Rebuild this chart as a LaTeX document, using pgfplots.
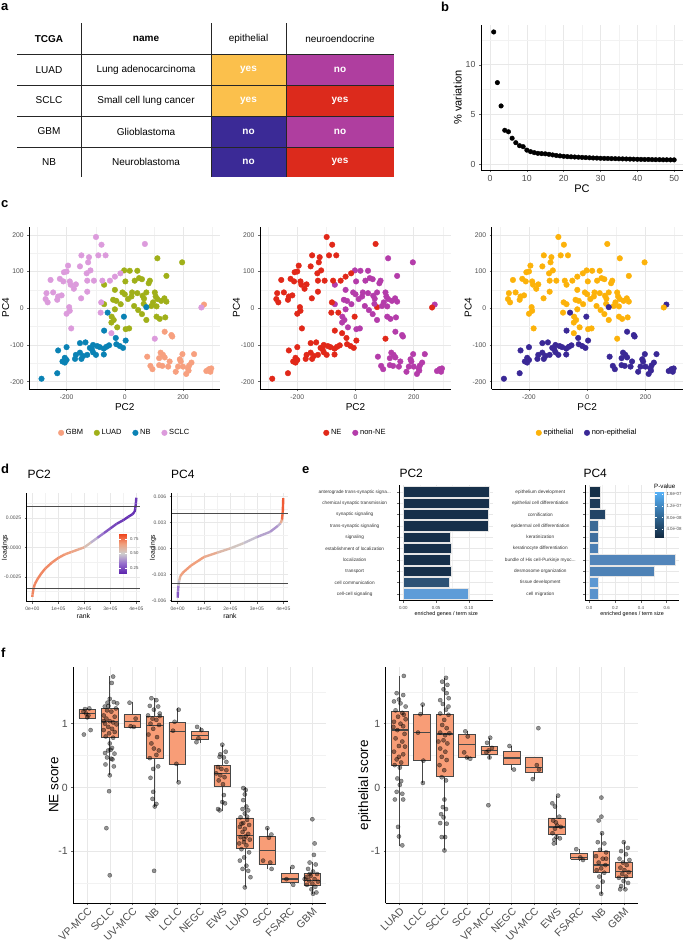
\documentclass[border=0pt]{standalone}
\usepackage{fontspec}
\setmainfont{Liberation Sans}
\usepackage{pgfplots}
\usepackage{pgfplotstable}
\pgfplotsset{compat=1.18}
\pgfplotsset{/pgf/number format/assume math mode=true}
\newcommand{\fs}[1]{\fontsize{#1}{#1}\selectfont}
\newcommand{\dd}{.\kern0pt.\kern0pt.}
\definecolor{tyel}{HTML}{FBC04C}
\definecolor{tmag}{HTML}{AF3E9F}
\definecolor{tred}{HTML}{DC2A1C}
\definecolor{tnav}{HTML}{3B2A96}
\definecolor{cGBM}{HTML}{F7A07F}
\definecolor{cLUAD}{HTML}{A0B019}
\definecolor{cNB}{HTML}{0A82B4}
\definecolor{cSCLC}{HTML}{DC9BDC}
\definecolor{cNE}{HTML}{E12819}
\definecolor{cnNE}{HTML}{B43CAA}
\definecolor{cEp}{HTML}{FCB20A}
\definecolor{cnEp}{HTML}{3A2896}
\definecolor{boxf}{HTML}{F89D77}
\definecolor{ax}{HTML}{4D4D4D}
\definecolor{b0}{HTML}{17304A}
\definecolor{b1}{HTML}{2D5275}
\definecolor{b2}{HTML}{5E9CD8}
\definecolor{e1}{HTML}{163048}
\definecolor{e2}{HTML}{1C3A58}
\definecolor{e3}{HTML}{234466}
\definecolor{e4}{HTML}{3C6A96}
\definecolor{e5}{HTML}{3E6E9E}
\definecolor{e6}{HTML}{4B7FB4}
\definecolor{e7}{HTML}{5285BA}
\definecolor{e8}{HTML}{4E82B6}
\definecolor{e9}{HTML}{5D98D2}
\definecolor{e10}{HTML}{5992CC}

\pgfplotsset{
  gg/.style={scale only axis, axis lines*=left, axis line style={black, line width=0.55pt, -},
    tick align=outside, major tick length=2pt, minor tick length=0pt,
    tick style={black!60, line width=0.45pt}, grid=both,
    major grid style={black!9, line width=0.5pt}, minor grid style={black!5, line width=0.35pt},
    tick label style={text=ax}, scaled ticks=false},
  pca/.style={gg, width=191pt, height=162.3pt, xmin=-328, xmax=328, ymin=-220, ymax=222,
    xtick={-200,0,200}, minor xtick={-300,-100,100,300}, ytick={-200,-100,0,100,200},
    minor ytick={-150,-50,50,150}, tick label style={font=\fs{6.8}},
    label style={font=\fs{10}}, xlabel={PC2}, ylabel={PC4},
    xlabel style={yshift=3pt}, ylabel style={yshift=-6pt},
    legend columns=-1, legend cell align=left,
    legend style={draw=none, fill=none, at={(0.5,-0.27)}, anchor=center, font=\fs{7.5},
      /tikz/every even column/.append style={column sep=9pt}},
    legend image code/.code={\draw[mark repeat=2,mark phase=2,#1] plot coordinates {(0pt,0pt) (4pt,0pt) (8pt,0pt)};}},
  pt/.style={only marks, mark=*, mark size=2.8pt, mark options={draw=none}},
  ldg/.style={gg, width=113.3pt, height=108.7pt, tick label style={font=\fs{5}},
    label style={font=\fs{6.8}}, xlabel={rank}, ylabel={loadings},
    xtick={0,100000,200000,300000,400000}, xticklabels={0e+00,1e+05,2e+05,3e+05,4e+05},
    minor xtick={50000,150000,250000,350000}, xlabel style={yshift=4pt},
    colormap={ld}{rgb255(0cm)=(95,40,175); rgb255(1cm)=(150,110,205); rgb255(2cm)=(205,205,205); rgb255(3cm)=(240,160,125); rgb255(4cm)=(240,70,30)},
    point meta min=0.16, point meta max=0.84},
  cbar/.style={scale only axis, view={0}{90}, xmin=0, xmax=1, axis line style={draw=none},
    xtick=\empty, yticklabel pos=right, tick style={white, line width=0.4pt}, major tick length=1.5pt,
    tick align=inside, tick label style={text=ax}, clip=false},
  enr/.style={gg, width=94pt, height=115.6pt, ymin=0.4, ymax=10.6, y dir=reverse,
    ytick={1,2,3,4,5,6,7,8,9,10}, minor ytick={}, tick label style={font=\fs{4.4}},
    yticklabel style={anchor=center, font=\fs{4.7}, text=black!80},
    xlabel={enriched genes / term size}, xlabel style={font=\fs{5.4}, yshift=5pt}},
  bx/.style={xbar, bar shift=0pt, bar width=10.2pt, draw=white!80!gray, line width=0.5pt},
  fbox/.style={gg, width=253pt, height=236.6pt, xmin=0.38, xmax=11.62, ymin=-1.82, ymax=1.895,
    xtick={1,2,3,4,5,6,7,8,9,10,11}, minor xtick={}, ytick={-1,0,1}, minor ytick={-1.5,-0.5,0.5,1.5},
    yticklabel style={font=\fs{10.5}}, xticklabel style={font=\fs{10.5}, rotate=45, anchor=north east, inner sep=1pt},
    ylabel style={font=\fs{13.5}, yshift=-7pt}},
  bxl/.style={black!72, line width=0.6pt},
  jit/.style={only marks, mark=*, mark size=2.1pt, mark options={fill=black, draw=black, fill opacity=0.42, draw opacity=0.55, line width=0.3pt}},
}
% pos, left, right, median, q1, q3, lower whisker, upper whisker
\newcommand{\bxp}[8]{%
\addplot[bxl] coordinates {(#1,#7) (#1,#5)};
\addplot[bxl] coordinates {(#1,#6) (#1,#8)};
\addplot[bxl, fill=boxf] coordinates {(#2,#5) (#3,#5) (#3,#6) (#2,#6) (#2,#5)};
\addplot[bxl, line width=1.3pt] coordinates {(#2,#4) (#3,#4)};
}

\pgfplotstableread{
x y
-99 194
-80 173
69 175
-149 144
-123 139
-91 144
-66 144
-126 125
-154 114
-118 103
-195 116
-200 100
-131 95
-209 98
-255 77
-223 80
-211 73
-189 73
-168 65
-175 53
-129 75
-106 75
-129 45
-77 75
-269 41
-246 43
-272 25
-265 16
-229 32
-217 35
-232 23
-150 27
-81 16
-191 3
-189 -7
-200 -15
-184 -55
-15 95
-34 86
-51 75
-83 -12
-46 -68
103 -83
263 2
-186 64
}\tSCLC
\pgfplotstableread{
x y
197 125
112 136
143 88
-2 103
17 102
43 102
2 73
34 75
49 82
59 79
86 75
82 68
-71 64
-34 50
-8 43
0 38
25 43
43 41
74 43
103 43
106 32
61 34
66 26
11 25
-29 20
-40 23
-71 11
-14 11
32 6
65 12
97 16
109 5
125 20
136 27
143 18
112 25
91 6
59 -16
74 -32
109 -23
120 -29
139 -25
-45 -23
-38 -32
-46 -39
-26 -52
3 -57
15 -55
23 32
46 -5
-34 -3
}\tLUAD
\pgfplotstableread{
x y
74 3
-59 -12
-3 -23
-71 -61
-31 -81
3 -88
-29 -98
-17 -103
-6 -108
-154 -95
-135 -93
-109 -100
-95 -103
-120 -108
-109 -120
-99 -127
-72 -126
-63 -105
-54 -101
-72 -110
-154 -121
-168 -127
-143 -130
-129 -127
-200 -106
-229 -115
-206 -135
-214 -145
-200 -141
-206 -148
-171 -138
-149 -138
-232 -177
-286 -192
-86 -106
-113 -112
}\tNB
\pgfplotstableread{
x y
272 10
137 -64
160 -73
163 -77
77 -132
123 -121
131 -127
118 -136
137 -134
154 -145
118 -155
88 -157
95 -166
198 -125
238 -125
189 -139
192 -145
183 -159
175 -173
200 -159
229 -148
221 -156
217 -164
219 -170
211 -179
149 -159
129 -157
289 -166
297 -164
280 -171
294 -173
}\tGBM

\begin{document}
\begin{tikzpicture}
\useasboundingbox (0pt,0pt) rectangle (685pt,-943pt);

% ---------- panel letters
\begin{scope}[every node/.style={anchor=base west, inner sep=0pt, font=\bfseries\fs{13}}]
\node at (1pt,-10.5pt) {a};
\node at (441pt,-11pt) {b};
\node at (1pt,-207pt) {c};
\node at (1pt,-473pt) {d};
\node at (302pt,-473pt) {e};
\node at (1pt,-657pt) {f};
\end{scope}

% ---------- panel a (table)
\fill[tyel] (211pt,-54pt) rectangle (286pt,-116pt);
\fill[tnav] (211pt,-116pt) rectangle (286pt,-177pt);
\fill[tmag] (286pt,-54pt) rectangle (394pt,-85pt);
\fill[tred] (286pt,-85pt) rectangle (394pt,-116pt);
\fill[tmag] (286pt,-116pt) rectangle (394pt,-147pt);
\fill[tred] (286pt,-147pt) rectangle (394pt,-177pt);
\foreach \yy in {54,85,116,147} {\draw[black!85, line width=0.8pt] (17pt,-\yy pt) -- (394pt,-\yy pt);}
\foreach \xx in {81,211,286} {\draw[black!85, line width=0.8pt] (\xx pt,-23pt) -- (\xx pt,-177pt);}
\begin{scope}[every node/.style={font=\fs{10}, inner sep=0pt}]
\node[font=\fs{10}\bfseries] at (49pt,-39pt) {TCGA};
\node[font=\fs{10}\bfseries] at (146pt,-39pt) {name};
\node at (248.5pt,-39pt) {epithelial};
\node at (340pt,-39pt) {neuroendocrine};
\node at (49pt,-70pt) {LUAD};
\node at (49pt,-100.5pt) {SCLC};
\node at (49pt,-131.5pt) {GBM};
\node at (49pt,-162pt) {NB};
\node at (146pt,-70pt) {Lung adenocarcinoma};
\node at (146pt,-100.5pt) {Small cell lung cancer};
\node at (146pt,-131.5pt) {Glioblastoma};
\node at (146pt,-162pt) {Neuroblastoma};
\node[font=\fs{10}\bfseries, white] at (248.5pt,-70pt) {yes};
\node[font=\fs{10}\bfseries, white] at (248.5pt,-100.5pt) {yes};
\node[font=\fs{10}\bfseries, white] at (248.5pt,-131.5pt) {no};
\node[font=\fs{10}\bfseries, white] at (248.5pt,-162pt) {no};
\node[font=\fs{10}\bfseries, white] at (340pt,-70pt) {no};
\node[font=\fs{10}\bfseries, white] at (340pt,-100.5pt) {yes};
\node[font=\fs{10}\bfseries, white] at (340pt,-131.5pt) {no};
\node[font=\fs{10}\bfseries, white] at (340pt,-162pt) {yes};
\end{scope}

% ---------- panel b
\begin{axis}[gg, at={(481pt,-170pt)}, anchor=south west, width=202pt, height=145pt,
  xmin=-2.45, xmax=52.4, ymin=-0.6, ymax=14.0,
  xtick={0,10,20,30,40,50}, minor xtick={5,15,25,35,45},
  ytick={0,5,10}, minor ytick={2.5,7.5,12.5},
  tick label style={font=\fs{8.8}}, label style={font=\fs{11}},
  xlabel={PC}, ylabel={\% variation}, xlabel style={yshift=4pt}, ylabel style={yshift=-3pt}]
\addplot[only marks, mark=*, mark size=2.3pt, black] coordinates {
(1,13.3) (2,8.2) (3,5.85) (4,3.4) (5,3.25) (6,2.6) (7,2.15) (8,1.85) (9,1.75) (10,1.4)
(11,1.25) (12,1.15) (13,1.08) (14,1.05) (15,1.03) (16,0.98) (17,0.92) (18,0.86) (19,0.82) (20,0.78)
(21,0.75) (22,0.73) (23,0.71) (24,0.69) (25,0.67) (26,0.65) (27,0.63) (28,0.61) (29,0.6) (30,0.58)
(31,0.57) (32,0.56) (33,0.55) (34,0.54) (35,0.53) (36,0.52) (37,0.51) (38,0.5) (39,0.49) (40,0.48)
(41,0.47) (42,0.46) (43,0.46) (44,0.45) (45,0.44) (46,0.44) (47,0.43) (48,0.43) (49,0.42) (50,0.42)};
\end{axis}

% ---------- panel c
\begin{axis}[pca, at={(29.3pt,-389pt)}, anchor=south west]
\addplot[pt, color=cGBM] table {\tGBM}; \addlegendentry{GBM}
\addplot[pt, color=cLUAD] table {\tLUAD}; \addlegendentry{LUAD}
\addplot[pt, color=cNB] table {\tNB}; \addlegendentry{NB}
\addplot[pt, color=cSCLC] table {\tSCLC}; \addlegendentry{SCLC}
\end{axis}
\begin{axis}[pca, at={(260pt,-389pt)}, anchor=south west]
\addplot[pt, color=cNE] table {\tNB}; \addlegendentry{NE}
\addplot[pt, color=cnNE] table {\tGBM}; \addlegendentry{non-NE}
\addplot[pt, color=cnNE, forget plot] table {\tLUAD};
\addplot[pt, color=cNE, forget plot] table {\tSCLC};
\end{axis}
\begin{axis}[pca, at={(491.7pt,-389pt)}, anchor=south west]
\addplot[pt, color=cEp] table {\tLUAD}; \addlegendentry{epithelial}
\addplot[pt, color=cnEp] table {\tGBM}; \addlegendentry{non-epithelial}
\addplot[pt, color=cnEp, forget plot] table {\tNB};
\addplot[pt, color=cEp, forget plot] table {\tSCLC};
\end{axis}

% ---------- panel d
\node[anchor=base west, inner sep=0pt, font=\fs{12}] at (27.3pt,-478pt) {PC2};
\node[anchor=base west, inner sep=0pt, font=\fs{12}] at (171pt,-478pt) {PC4};
\begin{axis}[ldg, at={(26.7pt,-601.7pt)}, anchor=south west,
  xmin=-21500, xmax=414000, ymin=-0.00461, ymax=0.0046,
  ytick={-0.0025,0,0.0025}, yticklabels={-0.0025,0.0000,0.0025},
  minor ytick={-0.00375,-0.00125,0.00125,0.00375},
  ylabel style={at={(axis description cs:-0.19,0.5)}, anchor=center}]
\addplot[mesh, point meta=explicit, line width=2.4pt] table[meta index=2] {
x y m
0 -0.0042 0.72
1000 -0.0040 0.72
3000 -0.0037 0.72
6000 -0.0034 0.72
10000 -0.0031 0.72
20000 -0.0027 0.72
35000 -0.0022 0.72
50000 -0.0018 0.72
75000 -0.0013 0.70
100000 -0.0009 0.70
125000 -0.0006 0.68
150000 -0.0004 0.66
175000 -0.0002 0.64
200000 0.0000 0.60
225000 0.0004 0.50
250000 0.0008 0.40
275000 0.0012 0.30
300000 0.0016 0.25
325000 0.0020 0.22
350000 0.0023 0.20
370000 0.0026 0.18
385000 0.0028 0.18
393000 0.0030 0.18
396000 0.0033 0.18
398000 0.0037 0.20
400000 0.0042 0.20
};
\addplot[black!70, line width=0.5pt] coordinates {(-21500,0.0035) (414000,0.0035)};
\addplot[black!70, line width=0.5pt] coordinates {(-21500,-0.0035) (414000,-0.0035)};
\end{axis}
% colour key of the PC2 loadings
\begin{axis}[cbar, at={(119pt,-573pt)}, anchor=south west, width=7.5pt, height=39pt,
  ymin=0.16, ymax=0.84, ytick={0.25,0.5,0.75}, yticklabels={0.25,0.50,0.75},
  tick label style={font=\fs{4.3}},
  colormap={ld}{rgb255(0cm)=(95,40,175); rgb255(1cm)=(150,110,205); rgb255(2cm)=(205,205,205); rgb255(3cm)=(240,160,125); rgb255(4cm)=(240,70,30)},
  point meta min=0.16, point meta max=0.84]
\addplot3[surf, shader=interp, mesh/rows=2, point meta=y] coordinates {(0,0.16,0) (1,0.16,0) (0,0.84,0) (1,0.84,0)};
\end{axis}
\begin{axis}[ldg, at={(171.7pt,-601.7pt)}, anchor=south west, width=116.6pt,
  xmin=-22700, xmax=419000, ymin=-0.00616, ymax=0.00638,
  ytick={-0.006,-0.003,0,0.003,0.006}, yticklabels={-0.006,-0.003,0.000,0.003,0.006},
  minor ytick={-0.0045,-0.0015,0.0015,0.0045},
  ylabel style={at={(axis description cs:-0.16,0.5)}, anchor=center}]
\addplot[mesh, point meta=explicit, line width=2.4pt] table[meta index=2] {
x y m
0 -0.0057 0.25
1000 -0.0050 0.30
3000 -0.0043 0.40
6000 -0.0037 0.55
10000 -0.0032 0.65
20000 -0.0028 0.68
50000 -0.0020 0.68
100000 -0.0010 0.66
150000 -0.0005 0.60
200000 0.0000 0.55
250000 0.0006 0.50
300000 0.0013 0.45
350000 0.0019 0.40
380000 0.0026 0.40
390000 0.0029 0.50
395000 0.0033 0.75
398000 0.0042 0.80
400000 0.0058 0.80
};
\addplot[black!70, line width=0.5pt] coordinates {(-22700,0.0040) (419000,0.0040)};
\addplot[black!70, line width=0.5pt] coordinates {(-22700,-0.0040) (419000,-0.0040)};
\end{axis}

% ---------- panel e
\node[anchor=base west, inner sep=0pt, font=\fs{12}] at (399.3pt,-477.3pt) {PC2};
\node[anchor=base west, inner sep=0pt, font=\fs{12}] at (583.3pt,-477.3pt) {PC4};
\begin{axis}[enr, at={(399.3pt,-600.6pt)}, anchor=south west,
  xmin=-0.0061, xmax=0.137, xtick={0,0.05,0.1}, xticklabels={0.00,0.05,0.10},
  minor xtick={0.025,0.075,0.125}, yticklabel style={xshift=-42.6pt},
  yticklabels={{anterograde trans-synaptic signa\dd},{chemical synaptic transmission},{synaptic signaling},{trans-synaptic signaling},{signaling},{establishment of localization},{localization},{transport},{cell communication},{cell-cell signaling}}]
\addplot[bx, fill=b0] coordinates {(0.131,1)};
\addplot[bx, fill=b0] coordinates {(0.131,2)};
\addplot[bx, fill=b0] coordinates {(0.130,3)};
\addplot[bx, fill=b0] coordinates {(0.130,4)};
\addplot[bx, fill=b0] coordinates {(0.0712,5)};
\addplot[bx, fill=b0] coordinates {(0.0727,6)};
\addplot[bx, fill=b0] coordinates {(0.0712,7)};
\addplot[bx, fill=b0] coordinates {(0.0727,8)};
\addplot[bx, fill=b1] coordinates {(0.0700,9)};
\addplot[bx, fill=b2] coordinates {(0.0985,10)};
\end{axis}
\begin{axis}[enr, at={(585pt,-600.6pt)}, anchor=south west, width=94.2pt,
  xmin=-0.0335, xmax=0.697, xtick={0,0.2,0.4,0.6}, xticklabels={0.0,0.2,0.4,0.6},
  minor xtick={0.1,0.3,0.5}, yticklabel style={xshift=-42.7pt},
  yticklabels={{epithelium development},{epithelial cell differentiation},{cornification},{epidermal cell differentiation},{keratinization},{keratinocyte differentiation},{bundle of His cell-Purkinje myoc\dd},{desmosome organization},{tissue development},{cell migration}}]
\addplot[bx, fill=e1] coordinates {(0.083,1)};
\addplot[bx, fill=e2] coordinates {(0.083,2)};
\addplot[bx, fill=e3] coordinates {(0.122,3)};
\addplot[bx, fill=e4] coordinates {(0.072,4)};
\addplot[bx, fill=e5] coordinates {(0.067,5)};
\addplot[bx, fill=e6] coordinates {(0.072,6)};
\addplot[bx, fill=e7] coordinates {(0.664,7)};
\addplot[bx, fill=e8] coordinates {(0.500,8)};
\addplot[bx, fill=e9] coordinates {(0.067,9)};
\addplot[bx, fill=e10] coordinates {(0.072,10)};
\end{axis}
% P-value key
\begin{axis}[cbar, at={(655pt,-537pt)}, anchor=south west, width=8pt, height=45pt,
  ymin=1.36, ymax=16.8, ytick={4,8,12,16}, yticklabels={4.0e-08,8.0e-08,1.2e-07,1.6e-07},
  tick label style={font=\fs{4.4}},
  colormap={pv}{rgb255(0cm)=(19,43,67); rgb255(1cm)=(86,177,247)},
  point meta min=1.36, point meta max=16.8]
\addplot3[surf, shader=interp, mesh/rows=2, point meta=y] coordinates {(0,1.36,0) (1,1.36,0) (0,16.8,0) (1,16.8,0)};
\end{axis}
\node[anchor=south west, inner sep=0pt, font=\fs{6.2}] at (654pt,-489pt) {P-value};

% ---------- panel f
\begin{axis}[fbox, at={(73.3pt,-903.3pt)}, anchor=south west,
  xticklabels={VP-MCC,SCLC,UV-MCC,NB,LCLC,NEGC,EWS,LUAD,SCC,FSARC,GBM}, ylabel={NE score}]
\bxp{1}{0.625}{1.375}{1.16}{1.09}{1.22}{1.08}{1.25}
\bxp{2}{1.625}{2.375}{1.03}{0.78}{1.24}{0.19}{1.75}
\bxp{3}{2.625}{3.375}{1.03}{0.95}{1.14}{0.95}{1.34}
\bxp{4}{3.625}{4.375}{0.97}{0.45}{1.12}{-0.30}{1.41}
\bxp{5}{4.625}{5.375}{0.88}{0.36}{1.02}{0.08}{1.24}
\bxp{6}{5.625}{6.375}{0.82}{0.76}{0.88}{0.70}{0.95}
\bxp{7}{6.625}{7.375}{0.22}{0.02}{0.35}{-0.37}{0.67}
\bxp{8}{7.625}{8.375}{-0.75}{-0.95}{-0.48}{-1.57}{0.0}
\bxp{9}{8.625}{9.375}{-0.99}{-1.21}{-0.77}{-1.28}{-0.63}
\bxp{10}{9.625}{10.375}{-1.44}{-1.49}{-1.35}{-1.52}{-1.25}
\bxp{11}{10.625}{11.375}{-1.46}{-1.53}{-1.35}{-1.67}{-1.17}
\addplot[jit] table {
x y
0.85 0.83
1.15 0.90
0.9 1.23
1.09 1.24
0.95 1.16
1.05 1.13
1.0 1.10
0.83 1.19
2.15 1.74
2.09 1.64
2.0 1.39
1.9 1.33
2.18 1.34
1.78 1.27
2.27 1.24
1.88 1.21
2.07 1.19
1.73 1.13
2.22 1.11
1.85 1.08
2.0 1.04
2.15 1.02
1.79 1.0
2.3 0.99
1.93 0.95
2.1 0.92
1.73 0.90
2.22 0.87
1.97 0.85
1.82 0.80
2.15 0.78
2.0 0.69
2.1 0.62
1.93 0.58
1.79 0.54
2.04 0.59
1.88 0.47
2.12 0.44
1.81 0.36
2.18 0.33
2.0 0.19
1.97 -0.06
1.85 -0.64
2.0 -1.38
2.07 0.45
2.21 0.53
1.73 1.04
2.33 1.32
1.94 1.28
2.88 1.33
3.15 1.08
2.93 0.96
3.07 0.95
3.85 1.40
4.07 1.37
3.78 1.28
4.15 1.27
3.96 1.22
3.7 1.13
4.22 1.12
3.9 1.08
4.07 1.06
3.81 1.0
4.19 0.98
3.93 0.92
3.72 0.83
4.1 0.79
3.85 0.69
3.96 0.61
4.18 0.58
4.07 0.51
3.78 0.46
4.15 0.33
3.93 0.29
3.81 0.15
3.93 -0.07
3.9 -0.18
4.07 -0.26
4.0 -0.30
3.97 -1.31
4.22 1.16
5.06 1.22
4.88 1.03
4.81 0.89
4.96 0.37
5.06 0.08
5.88 0.95
6.07 0.90
5.94 0.77
5.85 0.71
7.0 0.67
7.15 0.56
6.88 0.48
7.07 0.47
7.18 0.40
6.81 0.32
6.96 0.29
7.18 0.27
6.73 0.22
6.91 0.19
7.1 0.16
6.84 0.11
7.03 0.05
7.07 -0.12
7.0 -0.23
7.12 -0.25
6.81 -0.34
6.88 -0.36
6.91 0.52
7.93 -0.01
8.04 -0.04
8.0 -0.11
7.93 -0.2
8.07 -0.30
7.9 -0.34
8.15 -0.36
8.0 -0.41
7.81 -0.47
8.1 -0.51
7.93 -0.56
8.19 -0.59
7.78 -0.62
8.0 -0.65
7.9 -0.70
8.15 -0.73
8.04 -0.77
7.81 -0.78
8.22 -0.82
7.96 -0.86
8.07 -0.91
7.85 -0.97
8.19 -1.02
7.97 -1.10
7.78 -1.15
8.07 -1.23
7.9 -1.28
8.15 -1.31
8.25 -1.41
8.0 -1.57
7.85 -0.57
8.1 -0.46
7.97 -0.81
7.75 -0.88
9.0 -0.64
9.18 -0.74
9.07 -0.79
8.81 -1.15
9.13 -1.18
9.19 -1.28
10.12 -1.25
9.85 -1.44
10.15 -1.53
11.0 -0.5
11.1 -0.88
11.07 -1.06
10.88 -1.18
11.15 -1.21
10.81 -1.28
11.03 -1.32
11.21 -1.36
10.93 -1.39
10.73 -1.41
11.1 -1.44
10.85 -1.46
11.25 -1.48
11.0 -1.51
10.76 -1.53
11.13 -1.56
10.96 -1.60
11.18 -1.65
11.03 -1.67
10.88 -1.36
10.66 -1.44
};
\end{axis}

\begin{axis}[fbox, at={(385.7pt,-903.3pt)}, anchor=south west, width=252pt,
  xticklabels={LUAD,LCLC,SCLC,SCC,VP-MCC,NEGC,UV-MCC,EWS,FSARC,NB,GBM}, ylabel={epithelial score}]
\bxp{1}{0.625}{1.375}{0.90}{0.35}{1.19}{-0.92}{1.75}
\bxp{2}{1.625}{2.375}{0.86}{0.42}{1.15}{0.07}{1.30}
\bxp{3}{2.625}{3.375}{0.84}{0.18}{1.14}{-0.99}{1.72}
\bxp{4}{3.625}{4.375}{0.67}{0.48}{0.83}{0.45}{0.88}
\bxp{5}{4.625}{5.375}{0.58}{0.52}{0.65}{0.45}{0.78}
\bxp{6}{5.625}{6.375}{0.46}{0.37}{0.56}{0.28}{0.65}
\bxp{7}{6.625}{7.375}{0.31}{0.23}{0.48}{0.13}{0.48}
\bxp{8}{7.625}{8.375}{-0.62}{-0.74}{-0.48}{-0.90}{-0.13}
\bxp{9}{8.625}{9.375}{-1.10}{-1.13}{-1.04}{-1.15}{-0.97}
\bxp{10}{9.625}{10.375}{-1.22}{-1.33}{-1.01}{-1.67}{-0.72}
\bxp{11}{10.625}{11.375}{-1.32}{-1.41}{-1.17}{-1.60}{-0.86}
\addplot[jit] table {
x y
1.19 1.75
0.87 1.48
1.16 1.45
0.97 1.38
0.75 1.35
1.04 1.32
1.27 1.27
0.82 1.21
1.12 1.17
0.93 1.11
1.27 1.07
0.75 1.03
1.04 1.0
1.16 0.96
0.9 0.90
1.22 0.84
0.82 0.77
1.12 0.72
0.97 0.65
0.75 0.56
1.16 0.52
0.97 0.48
0.87 0.44
1.07 0.39
0.78 0.35
1.01 0.31
0.9 0.14
1.07 0.10
1.01 0.04
0.87 -0.07
1.12 -0.10
0.79 -0.19
1.16 -0.19
0.93 -0.62
0.97 -0.77
1.12 -0.91
1.19 1.14
0.72 0.95
1.24 0.64
2.03 1.30
1.93 1.15
1.82 0.86
2.06 0.42
2.04 0.07
3.07 1.72
2.9 1.66
3.13 1.61
2.96 1.54
3.1 1.48
2.81 1.37
3.19 1.40
2.93 1.31
3.07 1.22
2.81 1.16
3.18 1.14
2.99 1.06
2.9 0.98
3.1 0.93
2.81 0.86
3.03 0.82
2.96 0.74
3.13 0.69
2.81 0.61
3.04 0.56
2.88 0.48
3.1 0.43
2.78 0.35
2.99 0.27
2.88 0.16
3.07 0.11
3.0 -0.19
2.93 -0.31
3.07 -0.34
2.85 -0.42
2.96 -0.47
2.81 -0.56
3.1 -0.57
2.88 -0.78
3.03 -0.78
3.0 -0.99
3.18 1.27
2.73 0.72
3.22 0.85
3.93 0.88
4.04 0.80
3.88 0.55
4.0 0.47
4.15 0.45
5.04 0.78
4.9 0.70
5.12 0.62
4.97 0.58
4.87 0.55
5.01 0.47
4.96 -0.28
5.9 0.65
6.1 0.28
7.19 0.93
7.12 0.35
7.22 0.28
6.94 0.13
8.07 -0.13
7.81 -0.25
7.93 -0.30
8.12 -0.46
7.85 -0.52
8.03 -0.60
8.19 -0.62
7.93 -0.65
7.82 -0.72
8.0 -0.78
7.9 -0.82
8.15 -0.80
7.88 -0.88
7.97 -0.55
8.88 -0.97
9.06 -1.10
9.18 -1.14
10.0 -0.16
10.0 -0.46
9.88 -0.52
10.03 -0.72
9.84 -0.86
10.13 -0.88
9.94 -0.98
10.21 -1.02
9.76 -1.08
10.06 -1.12
9.88 -1.18
10.18 -1.22
9.99 -1.27
9.79 -1.30
10.13 -1.34
9.91 -1.40
10.06 -1.48
9.84 -1.56
9.99 -1.67
10.21 -1.12
11.0 -0.86
11.18 -0.95
10.88 -1.0
11.1 -1.05
10.81 -1.12
11.25 -1.14
10.96 -1.18
11.13 -1.22
10.85 -1.26
11.03 -1.30
11.22 -1.33
10.93 -1.36
11.1 -1.40
10.78 -1.42
10.99 -1.47
11.19 -1.50
10.88 -1.55
11.07 -1.60
10.84 -1.60
};
\end{axis}
\end{tikzpicture}
\end{document}
